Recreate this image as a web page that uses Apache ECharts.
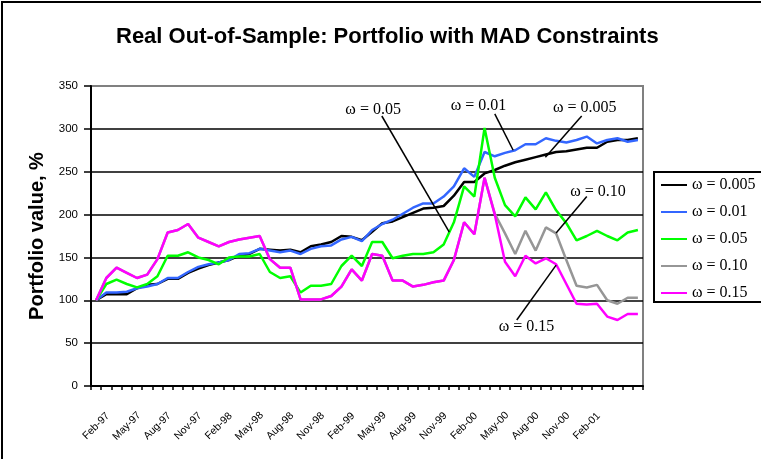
<!DOCTYPE html>
<html>
<head>
<meta charset="utf-8">
<script src="https://cdn.jsdelivr.net/npm/echarts@6/dist/echarts.min.js"></script>
<style>
  html, body { margin: 0; padding: 0; background: #fff; }
  #main { width: 761px; height: 459px; }
</style>
</head>
<body>
<div id="main"></div>
<script>
// months Feb-97 .. Jul-01
const months = ['Feb-97','Mar-97','Apr-97','May-97','Jun-97','Jul-97','Aug-97','Sep-97','Oct-97','Nov-97','Dec-97','Jan-98',
  'Feb-98','Mar-98','Apr-98','May-98','Jun-98','Jul-98','Aug-98','Sep-98','Oct-98','Nov-98','Dec-98','Jan-99',
  'Feb-99','Mar-99','Apr-99','May-99','Jun-99','Jul-99','Aug-99','Sep-99','Oct-99','Nov-99','Dec-99','Jan-00',
  'Feb-00','Mar-00','Apr-00','May-00','Jun-00','Jul-00','Aug-00','Sep-00','Oct-00','Nov-00','Dec-00','Jan-01',
  'Feb-01','Mar-01','Apr-01','May-01','Jun-01','Jul-01'];

// months that get a label on the x axis
const xTickLabels = ['Feb-97','May-97','Aug-97','Nov-97','Feb-98','May-98','Aug-98','Nov-98','Feb-99','May-99',
  'Aug-99','Nov-99','Feb-00','May-00','Aug-00','Nov-00','Feb-01'];

const seriesNames = ['ω = 0.005', 'ω = 0.01', 'ω = 0.05', 'ω = 0.10', 'ω = 0.15'];

const w005 = [100,107,107,107,114,118,119,125,125,132,137,141,144,147,152,154,160,159,158,159,156,163,165,168,175,174,170,180,
  190,192,197,202,207,208,210,222,238,238,248,252,257,261,264,267,270,273,274,276,278,278,285,287,287,289];
const w01 = [100,109,109,110,114,116,119,126,126,133,139,142,144,147,154,155,160,158,156,158,154,160,163,164,171,174,169,182,
  189,194,201,208,213,213,221,233,254,244,273,268,272,275,282,282,289,286,284,287,291,283,287,289,285,287];
const w05 = [100,119,124,119,115,119,128,152,152,156,150,147,142,150,151,151,154,133,126,128,109,117,117,119,140,152,140,168,
  168,149,152,154,154,156,165,191,233,221,301,243,211,198,220,206,226,205,190,170,175,181,175,170,179,182];
const w10 = [100,126,138,132,126,130,148,179,182,189,173,168,163,168,171,173,175,148,138,138,101,101,101,105,116,136,123,154,
  152,123,123,116,118,121,123,147,191,177,243,201,178,154,181,158,185,178,147,117,115,118,100,96,103,103];
const w15 = [100,126,138,132,126,130,148,179,182,189,173,168,163,168,171,173,175,148,138,138,101,101,101,105,116,136,123,154,
  152,123,123,116,118,121,123,147,191,177,243,200,145,128,152,143,149,142,119,96,95,96,81,77,84,84];

const yTicks = [0, 50, 100, 150, 200, 250, 300, 350];

// callouts: text, text point, line start, line end (category index, value)
const noteLabels = ['ω = 0.05', 'ω = 0.01', 'ω = 0.005', 'ω = 0.10', 'ω = 0.15'];
const noteText = [[27.1, 322], [37.4, 327], [47.8, 325], [49.1, 227], [42.1, 69]];
const noteFrom = [[27.95, 315], [39.0, 317.5], [47.5, 315], [48.0, 221], [41.15, 77]];
const noteTo = [[34.55, 179.6], [40.8, 275], [43.95, 267], [45.0, 178.4], [45.0, 141]];

const colors = ['#000000', '#3366FF', '#00FF00', '#969696', '#FF00FF'];
const values = [w005, w01, w05, w10, w15];

const sans = 'Arial, "Liberation Sans", sans-serif';
const serif = '"Times New Roman", "Liberation Serif", serif';

var chart = echarts.init(document.getElementById('main'));

var option = {
  animation: false,
  backgroundColor: '#fff',
  title: {
    text: 'Real Out-of-Sample: Portfolio with MAD Constraints',
    left: 116,
    top: 26,
    padding: 0,
    textStyle: { fontFamily: sans, fontSize: 22, fontWeight: 'bold', color: '#000' }
  },
  grid: {
    left: 91, right: 118, top: 86, bottom: 73,
    show: true,
    borderColor: '#808080',
    borderWidth: 2
  },
  legend: {
    orient: 'vertical',
    left: 661,
    top: 177,
    padding: 0,
    itemWidth: 26,
    itemHeight: 2,
    itemGap: 11,
    icon: 'rect',
    data: seriesNames,
    textStyle: { fontFamily: serif, fontSize: 16, lineHeight: 16, color: '#000' }
  },
  xAxis: {
    type: 'category',
    data: months,
    boundaryGap: true,
    axisLine: { lineStyle: { color: '#000', width: 2 } },
    axisTick: { show: true, interval: 0, length: 4, lineStyle: { color: '#000', width: 1.5 } },
    axisLabel: {
      interval: function (i, name) { return xTickLabels.indexOf(name) >= 0; },
      rotate: 45,
      align: 'center',
      verticalAlign: 'middle',
      margin: 40,
      fontFamily: sans,
      fontSize: 10.5,
      color: '#000'
    },
    splitLine: { show: false }
  },
  yAxis: {
    type: 'value',
    min: yTicks[0],
    max: yTicks[yTicks.length - 1],
    interval: 50,
    name: 'Portfolio value, %',
    nameLocation: 'middle',
    nameGap: 44,
    nameRotate: 90,
    nameTextStyle: { fontFamily: sans, fontSize: 20, fontWeight: 'bold', color: '#000' },
    axisLine: { show: true, lineStyle: { color: '#000', width: 2 } },
    axisTick: { show: true, length: 7, lineStyle: { color: '#000', width: 1.5 } },
    axisLabel: { margin: 13, fontFamily: sans, fontSize: 11.5, color: '#000' },
    splitLine: {
      show: true,
      lineStyle: { color: ['#000', '#000', '#000', '#000', '#000', '#000', '#000', '#808080'], width: 1.5 }
    }
  },
  series: seriesNames.map(function (name, k) {
    return {
      name: name,
      type: 'line',
      data: values[k],
      showSymbol: false,
      symbol: 'none',
      lineStyle: { color: colors[k], width: 2.5 },
      itemStyle: { color: colors[k] },
      z: 2 + k
    };
  })
};

chart.setOption(option);

// place callouts from data coordinates
let toPixel = (pt) => {
  let a = chart.convertToPixel({ gridIndex: 0 }, [0, pt[1]]);
  let b = chart.convertToPixel({ gridIndex: 0 }, [1, pt[1]]);
  return [a[0] + pt[0] * (b[0] - a[0]), a[1]];
};

let graphics = [{
  type: 'rect',
  shape: { x: 2, y: 2, width: 820, height: 520 },
  style: { fill: 'none', stroke: '#000', lineWidth: 2 },
  silent: true
}, {
  type: 'rect',
  shape: { x: 654, y: 172, width: 200, height: 130 },
  style: { fill: 'none', stroke: '#000', lineWidth: 2 },
  silent: true
}];

noteLabels.forEach(function (txt, k) {
  let p = toPixel(noteText[k]), s = toPixel(noteFrom[k]), e = toPixel(noteTo[k]);
  graphics.push({
    type: 'line',
    shape: { x1: s[0], y1: s[1], x2: e[0], y2: e[1] },
    style: { stroke: '#000', lineWidth: 1.5 },
    z: 20
  });
  graphics.push({
    type: 'text',
    x: p[0],
    y: p[1],
    style: {
      text: txt,
      fill: '#000',
      font: '16px ' + serif,
      align: 'center',
      verticalAlign: 'middle'
    },
    z: 20
  });
});

chart.setOption({ graphic: graphics });
</script>
</body>
</html>
